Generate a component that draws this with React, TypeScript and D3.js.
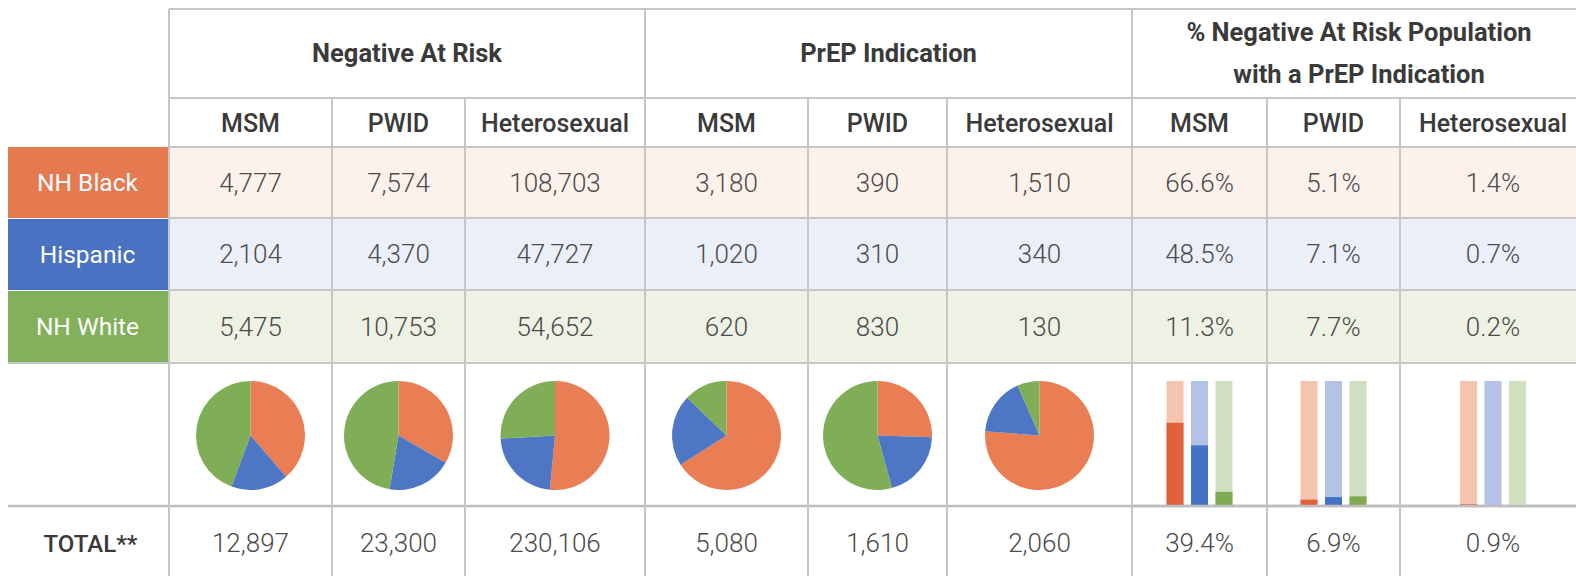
import React from "react";
import * as d3 from "d3";

// ---------- DATA ----------
const races = ["NH Black", "Hispanic", "NH White"];
const groups = ["MSM", "PWID", "Heterosexual"];
const sections = ["Negative At Risk", "PrEP Indication", "% Negative At Risk Population|with a PrEP Indication"];

const negMSM = [4777, 2104, 5475];
const negPWID = [7574, 4370, 10753];
const negHetero = [108703, 47727, 54652];
const prepMSM = [3180, 1020, 620];
const prepPWID = [390, 310, 830];
const prepHetero = [1510, 340, 130];
const pctMSM = [66.6, 48.5, 11.3];
const pctPWID = [5.1, 7.1, 7.7];
const pctHetero = [1.4, 0.7, 0.2];
const totalCounts = [12897, 23300, 230106, 5080, 1610, 2060];
const totalPcts = [39.4, 6.9, 0.9];
const totalLabel = "TOTAL**";

// ---------- LAYOUT / STYLE ----------
const W = 1576, H = 576;
const colEdges = [169, 332, 465, 645, 808, 947, 1132, 1267, 1400, 1586];
const yTop = 9, yH1 = 98, yH2 = 147, yR1 = 218, yR2 = 290, yR3 = 363, yPie = 506;
const labelX0 = 8;
const raceDark = ["#E5794F", "#4A72C2", "#83B05A"];
const rowBg = ["#FDF2EB", "#EBEFF8", "#EEF2E5"];
const pieColors = ["#E97E55", "#4D76C4", "#80AE56"];
const barDark = ["#E0623D", "#4472C4", "#7FAA4F"];
const barLight = ["#F5C4AE", "#B3C2E6", "#D0DFC0"];
const gridColor = "#C6C6C6";
const textColor = "#4B4B4B";
const headColor = "#3A3A3A";
const FONT = "Roboto, 'Noto Sans', sans-serif";

const fmt = d3.format(",");
const fmtPct = (v: number) => v.toFixed(1) + "%";

export default function App() {
  const rowTops = [yH2, yR1, yR2];
  const rowBots = [yR1, yR2, yR3];
  const countCols = [negMSM, negPWID, negHetero, prepMSM, prepPWID, prepHetero];
  const pctCols = [pctMSM, pctPWID, pctHetero];
  const colCenter = (i: number) => (colEdges[i] + colEdges[i + 1]) / 2;

  const pie = d3.pie<number>().sort(null).value((d) => d);
  const arc = d3.arc<d3.PieArcDatum<number>>().innerRadius(0).outerRadius(54.5);
  const pieCy = 435.5;

  const yBar = d3.scaleLinear().domain([0, 100]).range([yPie, 381]);

  return (
    <svg width={W} height={H} style={{ position: "absolute", left: 0, top: 0, display: "block", background: "#fff" }} fontFamily={FONT}>
      {/* row backgrounds */}
      {races.map((r, i) => (
        <rect key={"bg" + i} x={colEdges[0]} y={rowTops[i]} width={W - colEdges[0]} height={rowBots[i] - rowTops[i]} fill={rowBg[i]} />
      ))}
      {/* label blocks */}
      {races.map((r, i) => (
        <g key={"lab" + i}>
          <rect x={labelX0} y={rowTops[i] + (i === 0 ? 0 : 1)} width={colEdges[0] - labelX0} height={rowBots[i] - rowTops[i] - (i === 0 ? 0 : 1)} fill={raceDark[i]} />
          <text x={(labelX0 + colEdges[0]) / 2 - 1} y={(rowTops[i] + rowBots[i]) / 2 + 8.5} textAnchor="middle" fill="#fff" fontSize={24.5} fontWeight={400}>{r}</text>
        </g>
      ))}

      {/* grid: horizontal */}
      <line x1={colEdges[0]} x2={W} y1={yTop} y2={yTop} stroke={gridColor} strokeWidth={2} />
      <line x1={colEdges[0]} x2={W} y1={yH1} y2={yH1} stroke={gridColor} strokeWidth={2} />
      <line x1={colEdges[0]} x2={W} y1={yH2} y2={yH2} stroke={gridColor} strokeWidth={2} />
      {[yR1, yR2].map((y, i) => (
        <line key={"hr" + i} x1={colEdges[0]} x2={W} y1={y} y2={y} stroke={gridColor} strokeWidth={2} />
      ))}
      <line x1={labelX0} x2={W} y1={yR3} y2={yR3} stroke={gridColor} strokeWidth={2} />
      <line x1={labelX0} x2={W} y1={yPie} y2={yPie} stroke="#BDBDBD" strokeWidth={2.5} />

      {/* grid: vertical */}
      {colEdges.slice(0, -1).map((x, i) => (
        <line key={"v" + i} x1={x} x2={x} y1={i % 3 === 0 ? yTop : yH1} y2={H} stroke={gridColor} strokeWidth={2} />
      ))}

      {/* section headers */}
      {sections.map((s, k) => {
        const cx = (colEdges[k * 3] + colEdges[k * 3 + 3]) / 2;
        const lines = s.split("|");
        const mid = (yTop + yH1) / 2;
        return lines.map((ln, j) => (
          <text key={"s" + k + j} x={cx} y={mid + 8.5 + (j - (lines.length - 1) / 2) * 42} textAnchor="middle" fill={headColor} fontSize={25.5} fontWeight={700}>{ln}</text>
        ));
      })}
      {/* group headers */}
      {colEdges.slice(0, -1).map((x, i) => (
        <text key={"g" + i} x={colCenter(i)} y={(yH1 + yH2) / 2 + 9} textAnchor="middle" fill={headColor} fontSize={25} fontWeight={500}>{groups[i % 3]}</text>
      ))}

      {/* count cells */}
      {countCols.map((col, ci) =>
        col.map((v, ri) => (
          <text key={"c" + ci + ri} x={colCenter(ci)} y={(rowTops[ri] + rowBots[ri]) / 2 + 9} textAnchor="middle" fill={textColor} fontSize={26} fontWeight={300}>{fmt(v)}</text>
        ))
      )}
      {/* pct cells */}
      {pctCols.map((col, ci) =>
        col.map((v, ri) => (
          <text key={"p" + ci + ri} x={colCenter(ci + 6)} y={(rowTops[ri] + rowBots[ri]) / 2 + 9} textAnchor="middle" fill={textColor} fontSize={26} fontWeight={300}>{fmtPct(v)}</text>
        ))
      )}

      {/* pies */}
      {countCols.map((col, ci) => (
        <g key={"pie" + ci} transform={`translate(${colCenter(ci)},${pieCy})`}>
          {pie(col).map((a, k) => (
            <path key={k} d={arc(a) || ""} fill={pieColors[k]} />
          ))}
        </g>
      ))}

      {/* bars */}
      {pctCols.map((col, ci) => {
        const c = colCenter(ci + 6);
        const xb = d3.scaleBand<string>().domain(races).range([c - 33, c + 33]).paddingInner(0.306).paddingOuter(0);
        return (
          <g key={"bars" + ci}>
            {col.map((v, k) => (
              <g key={k}>
                <rect x={xb(races[k])} y={yBar(100)} width={xb.bandwidth()} height={yBar(0) - yBar(100)} fill={barLight[k]} />
                <rect x={xb(races[k])} y={yBar(v)} width={xb.bandwidth()} height={yBar(0) - yBar(v)} fill={barDark[k]} />
              </g>
            ))}
          </g>
        );
      })}
      <line x1={colEdges[6]} x2={W} y1={yPie} y2={yPie} stroke="#BDBDBD" strokeWidth={2.5} />

      {/* totals */}
      <text x={(labelX0 + colEdges[0]) / 2 + 2} y={552} textAnchor="middle" fill={headColor} fontSize={24} fontWeight={500}>{totalLabel}</text>
      {totalCounts.map((v, i) => (
        <text key={"t" + i} x={colCenter(i)} y={552} textAnchor="middle" fill={textColor} fontSize={26} fontWeight={300}>{fmt(v)}</text>
      ))}
      {totalPcts.map((v, i) => (
        <text key={"tp" + i} x={colCenter(i + 6)} y={552} textAnchor="middle" fill={textColor} fontSize={26} fontWeight={300}>{fmtPct(v)}</text>
      ))}
    </svg>
  );
}
